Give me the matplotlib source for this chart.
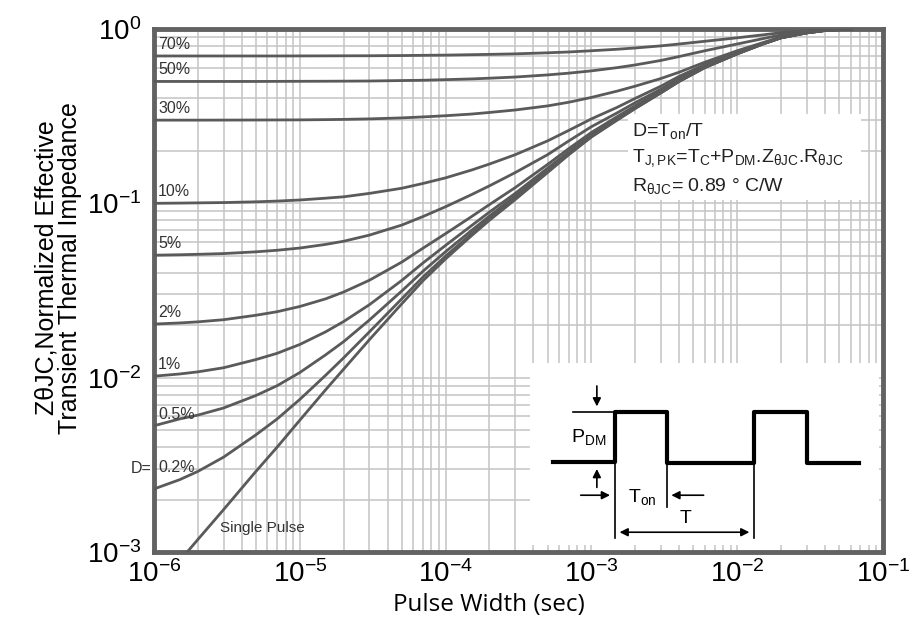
import matplotlib
matplotlib.use("Agg")
import matplotlib.pyplot as plt
from matplotlib.patches import Rectangle

plt.rcParams['font.family'] = ['Liberation Sans', 'DejaVu Sans']
plt.rcParams['mathtext.fontset'] = 'custom'
plt.rcParams['mathtext.rm'] = 'Liberation Sans'
plt.rcParams['mathtext.it'] = 'Liberation Sans'
plt.rcParams['axes.unicode_minus'] = False

# pulse width (sec)
pulse_width = [1e-6, 1.5e-6, 2e-6, 3e-6, 5e-6, 7e-6, 1e-5, 1.5e-5, 2e-5, 3e-5,
               5e-5, 7e-5, 1e-4, 1.5e-4, 2e-4, 3e-4, 5e-4, 7e-4, 1e-3, 1.5e-3,
               2e-3, 3e-3, 4e-3, 6e-3, 1e-2, 1.5e-2, 2e-2, 3e-2, 4e-2, 6e-2]

# normalized transient thermal impedance
z_70 = [0.7, 0.7, 0.7, 0.7, 0.7, 0.7, 0.7005, 0.701, 0.7015, 0.702,
        0.704, 0.706, 0.708, 0.712, 0.715, 0.72, 0.73, 0.738, 0.75, 0.765,
        0.778, 0.80, 0.82, 0.85, 0.89, 0.925, 0.952, 0.978, 0.992, 1.0]
z_50 = [0.5, 0.5, 0.5, 0.5, 0.5, 0.5005, 0.501, 0.5015, 0.502, 0.503,
        0.506, 0.508, 0.512, 0.517, 0.522, 0.53, 0.545, 0.558, 0.575, 0.60,
        0.622, 0.66, 0.695, 0.75, 0.82, 0.88, 0.925, 0.965, 0.987, 1.0]
z_30 = [0.3, 0.3, 0.3, 0.3002, 0.3005, 0.3008, 0.301, 0.302, 0.303, 0.305,
        0.309, 0.313, 0.318, 0.325, 0.332, 0.343, 0.362, 0.38, 0.405, 0.44,
        0.47, 0.52, 0.565, 0.645, 0.75, 0.835, 0.9, 0.955, 0.983, 1.0]
z_10 = [0.1, 0.1003, 0.1006, 0.101, 0.102, 0.103, 0.1045, 0.107, 0.109, 0.114,
        0.122, 0.13, 0.14, 0.155, 0.168, 0.19, 0.228, 0.262, 0.305, 0.355,
        0.40, 0.47, 0.535, 0.625, 0.735, 0.828, 0.895, 0.953, 0.982, 1.0]
z_5 = [0.0504, 0.0507, 0.051, 0.0515, 0.0527, 0.0538, 0.0554, 0.0581, 0.0606, 0.0657,
       0.075, 0.084, 0.0956, 0.112, 0.126, 0.15, 0.19, 0.228, 0.275, 0.33,
       0.378, 0.452, 0.52, 0.615, 0.73, 0.826, 0.893, 0.952, 0.981, 1.0]
z_2 = [0.0203, 0.0206, 0.0209, 0.0215, 0.0228, 0.0239, 0.0256, 0.0283, 0.031, 0.0362,
       0.046, 0.0553, 0.067, 0.0837, 0.0984, 0.123, 0.167, 0.206, 0.255, 0.314,
       0.363, 0.441, 0.51, 0.608, 0.726, 0.824, 0.892, 0.951, 0.98, 1.0]
z_1 = [0.0102, 0.0105, 0.0108, 0.0114, 0.0127, 0.0138, 0.0155, 0.0183, 0.021, 0.0262,
       0.0361, 0.0455, 0.0574, 0.0743, 0.0891, 0.114, 0.159, 0.198, 0.248, 0.307,
       0.357, 0.436, 0.505, 0.604, 0.722, 0.822, 0.891, 0.95, 0.98, 1.0]
z_05 = [0.0053, 0.0058, 0.0061, 0.0067, 0.0079, 0.009, 0.0107, 0.0135, 0.0161, 0.0214,
        0.0314, 0.0408, 0.0528, 0.0697, 0.0846, 0.11, 0.154, 0.194, 0.244, 0.303,
        0.353, 0.433, 0.502, 0.602, 0.72, 0.82, 0.89, 0.95, 0.98, 1.0]
z_02 = [0.0023, 0.0026, 0.0029, 0.0035, 0.0047, 0.0058, 0.0075, 0.0103, 0.013, 0.0183,
        0.0283, 0.0378, 0.0498, 0.0668, 0.0818, 0.107, 0.152, 0.192, 0.242, 0.301,
        0.351, 0.431, 0.501, 0.601, 0.72, 0.82, 0.89, 0.95, 0.98, 1.0]
z_single = [0.0006, 0.00089, 0.00118, 0.00175, 0.0029, 0.004, 0.0057, 0.0085, 0.0112, 0.0165,
            0.0265, 0.036, 0.048, 0.065, 0.08, 0.105, 0.15, 0.19, 0.24, 0.30,
            0.35, 0.43, 0.50, 0.60, 0.72, 0.82, 0.89, 0.95, 0.98, 1.0]

curves = [z_70, z_50, z_30, z_10, z_5, z_2, z_1, z_05, z_02, z_single]
curve_labels = ['70%', '50%', '30%', '10%', '5%', '2%', '1%', '0.5%', '0.2%', '']

x_ticks = [1e-6, 1e-5, 1e-4, 1e-3, 1e-2, 1e-1]
y_ticks = [1e-3, 1e-2, 1e-1, 1e0]

line_col = '#5a5a5a'
text_col = '#333333'

fig = plt.figure(figsize=(9.09, 6.19), dpi=100)
ax = fig.add_axes([0.1694, 0.1082, 0.802, 0.845])

ax.set_xscale('log')
ax.set_yscale('log')
ax.set_xlim(1e-6, 1e-1)
ax.set_ylim(1e-3, 1e0)
ax.set_xticks(x_ticks)
ax.set_yticks(y_ticks)

ax.grid(True, which='both', color='#c4c4c4', linewidth=1.1)
ax.set_axisbelow(True)
ax.tick_params(which='both', direction='in', length=0, labelsize=20)
ax.tick_params(axis='x', pad=6)
ax.tick_params(axis='y', pad=9)

for sp in ax.spines.values():
    sp.set_color('#626262')
    sp.set_linewidth(3.5)

# white box behind the formulas
ax.add_patch(Rectangle((0.650, 0.673), 0.32, 0.164, transform=ax.transAxes,
                       facecolor='white', edgecolor='none', zorder=1))

for z, lab in zip(curves, curve_labels):
    ax.plot(pulse_width, z, color=line_col, linewidth=2.0, zorder=3)
    if lab:
        dy = 10 if lab == '0.2%' else 3
        ax.annotate(lab, (pulse_width[0], z[0]), xytext=(3, dy), textcoords='offset points',
                    fontsize=11.5, color=text_col, va='bottom', ha='left', zorder=4)

ax.text(-0.003, 0.16, 'D=', transform=ax.transAxes, fontsize=11.5, color=text_col,
        ha='right', va='center')
ax.text(2.85e-6, 1.3e-3, 'Single Pulse', fontsize=11, color=text_col)

# formulas
ax.text(0.656, 0.805, r'D=T$_{\mathregular{on}}$/T', transform=ax.transAxes, fontsize=14,
        color='#222222', va='center', zorder=4)
ax.text(0.656, 0.753, r'T$_{\mathregular{J,PK}}$=T$_{\mathregular{C}}$+P$_{\mathregular{DM}}$.Z$_{\mathregular{θJC}}$.R$_{\mathregular{θJC}}$',
        transform=ax.transAxes, fontsize=14, color='#222222', va='center', zorder=4)
ax.text(0.656, 0.70, r'R$_{\mathregular{θJC}}$= 0.89 ° C/W', transform=ax.transAxes, fontsize=14,
        color='#222222', va='center', zorder=4)

# inset with the pulse train (drawn in pixel-like units)
ins = ax.inset_axes([0.516, 0.013, 0.478, 0.348])
ins.set_xlim(530, 880)
ins.set_ylim(545, 363)
ins.axis('off')
ins.add_patch(Rectangle((530, 363), 350, 182, facecolor='white', edgecolor='none'))
ins.plot([553, 615, 615, 667, 667, 755, 755, 808, 808, 860],
         [462, 462, 412, 412, 463, 463, 412, 412, 463, 463], color='black', linewidth=3)
thin = dict(color='black', linewidth=1.2)
ins.plot([573, 613], [412, 412], **thin)
ins.plot([615, 615], [462, 538], **thin)
ins.plot([667, 667], [463, 507], **thin)
ins.plot([755, 755], [462, 538], **thin)
arr = dict(arrowstyle='-|>', color='black', lw=1.2, mutation_scale=12)
ins.annotate('', xy=(597, 409), xytext=(597, 383), arrowprops=arr)
ins.annotate('', xy=(597, 466), xytext=(597, 490), arrowprops=arr)
ins.annotate('', xy=(613, 495), xytext=(578, 495), arrowprops=arr)
ins.annotate('', xy=(669, 495), xytext=(707, 495), arrowprops=arr)
ins.annotate('', xy=(753, 532), xytext=(617, 532),
             arrowprops=dict(arrowstyle='<|-|>', color='black', lw=1.2, mutation_scale=12))
ins.text(571, 437, r'P$_{\mathregular{DM}}$', fontsize=14, va='center', ha='left')
ins.text(628, 497, r'T$_{\mathregular{on}}$', fontsize=14, va='center', ha='left')
ins.text(680, 518, 'T', fontsize=14, va='center', ha='left')

fig.text(0.538, 0.003, 'Pulse Width (sec)', fontsize=17.5, family=['Open Sans', 'DejaVu Sans'],
         ha='center', va='bottom')
fig.text(58 / 909, 1 - 268 / 619, 'ZθJC,Normalized Effective\nTransient Thermal Impedance',
         rotation=90, ha='center', va='center', fontsize=18, linespacing=0.95,
         family=['Liberation Sans', 'DejaVu Sans'])

fig.savefig('out.png', dpi=100)
